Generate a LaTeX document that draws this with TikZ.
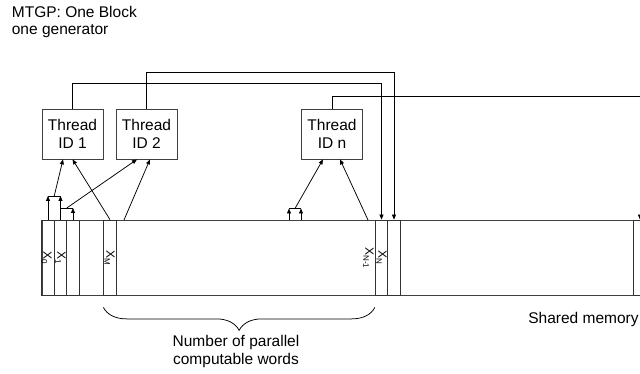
\documentclass[tikz,border=0pt]{standalone}
\usepackage{fontspec}
\setmainfont{Liberation Sans}
\usetikzlibrary{arrows.meta,decorations.pathreplacing}

\tikzset{
  threadbox/.style={draw=black!75, minimum width=61pt, minimum height=50pt,
    inner sep=0pt, align=center, font=\fontsize{15.5}{18}\selectfont},
  memcol/.style={draw=black!80, minimum width=12.5pt, minimum height=75pt, inner sep=0pt},
  collabel/.style={rotate=-90, inner sep=0pt, font=\fontsize{12}{13}\selectfont},
  flow/.style={-{Triangle[length=5pt,width=4pt]}},
  plain/.style={font=\fontsize{15.5}{17.5}\selectfont, inner sep=0pt},
}

\begin{document}
\begin{tikzpicture}[x=1pt, y=-1pt, line width=0.75pt]
\useasboundingbox (0,0) rectangle (640,374);

\node[plain, anchor=north west, align=left] (title) at (11.5,5.5) {MTGP: One Block\\one generator};

% threads
\node[threadbox] (t1) at (72.5,134) {Thread\\ID 1};
\node[threadbox] (t2) at (146.5,134) {Thread\\ID 2};
\node[threadbox] (tn) at (332,134) {Thread\\ID n};

% shared memory and its words
\node[draw=black!75, minimum width=620pt, minimum height=75pt, inner sep=0pt, anchor=north west] (mem) at (41.75,220) {};
\node[memcol] (x0) at (48,257.5) {};
\node[memcol] (x1) at (60.5,257.5) {};
\node[memcol] (x2) at (73,257.5) {};
\node[memcol] (xm) at (110,257.5) {};
\node[memcol] (xn1) at (381.5,257.5) {};
\node[memcol] (xn) at (394,257.5) {};
\node[memcol] (xl) at (640,257.5) {};

\node[collabel] (lx0) at (46.5,258) {X\textsubscript{0}};
\node[collabel] (lx1) at (60.5,258) {X\textsubscript{1}};
\node[collabel] (lxm) at (109.5,258) {X\textsubscript{M}};
\node[collabel] (lxn1) at (368.5,258) {X\textsubscript{N-1}};
\node[collabel] (lxn) at (381.5,258) {X\textsubscript{N}};

% reads
\coordinate (a0) at (48,196);
\coordinate (a1) at (60.5,196);
\coordinate (a01) at (54.25,196);
\coordinate (a1b) at (60.5,208);
\coordinate (a2) at (73,208);
\coordinate (a12) at (66.75,208);
\coordinate (m2) at (124,220);
\draw[flow] (x0.north) -- (a0);
\draw[flow] (x1.north) -- (a1);
\draw (a0) -- (a1);
\draw[flow] (x2.north) -- (a2);
\draw (a1b) -- (a2);
\draw[flow] (a01) -- ([xshift=-9.5pt]t1.south);
\draw[flow] (a12) -- ([xshift=-9.5pt]t2.south);
\draw[flow] (xm.north) -- (t1.south);
\draw[flow] (m2) -- ([xshift=3.5pt]t2.south);

\coordinate (c0) at (289,220);
\coordinate (c1) at (301,220);
\coordinate (b0) at (289,208.5);
\coordinate (b1) at (301,208.5);
\coordinate (b01) at (295,208.5);
\coordinate (m3) at (368,220);
\draw[flow] (c0) -- (b0);
\draw[flow] (c1) -- (b1);
\draw (b0) -- (b1);
\draw[flow] (b01) -- ([xshift=-9pt]tn.south);
\draw[flow] (m3) -- ([xshift=8pt]tn.south);

% writes
\draw[flow] (t1.north) -- ++(0,-25) -| (xn1.north);
\draw[flow] (t2.north) -- ++(0,-36) -| (xn.north);
\draw[flow] (tn.north) -- ++(0,-12) -| (xl.north);

\draw[decorate, decoration={brace, mirror, amplitude=23pt}]
  ([yshift=-12pt]xm.south west) -- ([yshift=-12pt]xn1.south west);
\node[plain, align=center] (nwords) at (236,351.5) {Number of parallel\\computable words};
\node[plain, anchor=base west] (shm) at (528,323) {Shared memory};
\end{tikzpicture}
\end{document}
